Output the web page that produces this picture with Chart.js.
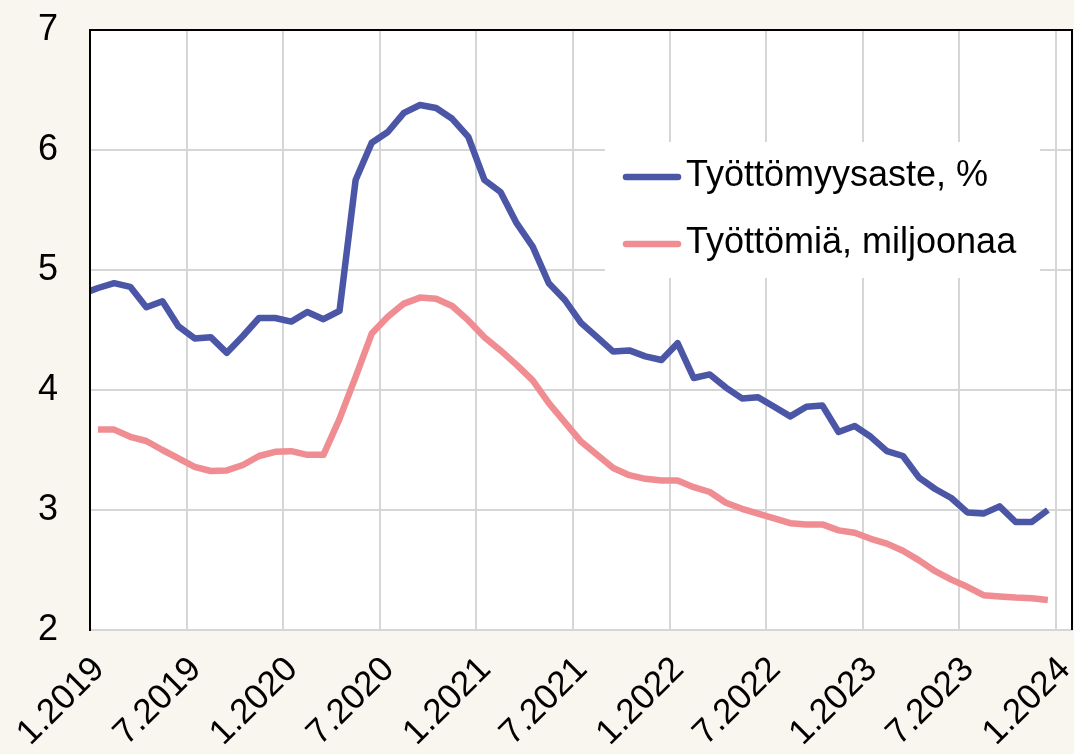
<!DOCTYPE html>
<html>
<head>
<meta charset="utf-8">
<script src="https://cdn.jsdelivr.net/npm/chart.js@4"></script>
<style>
  html, body { margin: 0; padding: 0; background: #f9f5ef; }
  #chart { display: block; }
</style>
</head>
<body>
<canvas id="chart" width="1074" height="754"></canvas>
<script>
// x-axis tick labels, one every 6 months
const tickLabels = ['1.2019', '7.2019', '1.2020', '7.2020', '1.2021', '7.2021',
  '1.2022', '7.2022', '1.2023', '7.2023', '1.2024'];

// Työttömyysaste, %  (monthly, from 12.2018)
const rateStart = -1;
const unemploymentRate = [
  4.80, 4.85, 4.89, 4.86, 4.69, 4.74, 4.53, 4.43, 4.44, 4.31, 4.45, 4.60, 4.60,
  4.57, 4.65, 4.59, 4.66, 5.75, 6.06, 6.15, 6.31, 6.375, 6.35, 6.26, 6.11,
  5.75, 5.65, 5.39, 5.195, 4.89, 4.75, 4.56, 4.44, 4.32, 4.33, 4.28, 4.25,
  4.39, 4.10, 4.13, 4.02, 3.93, 3.94, 3.86, 3.78, 3.86, 3.87, 3.65, 3.70,
  3.61, 3.49, 3.45, 3.27, 3.175, 3.10, 2.98, 2.97, 3.03, 2.90, 2.90, 3.00
];

// Työttömiä, miljoonaa  (monthly, from 1.2019)
const millionsStart = 0;
const unemployedMillions = [
  3.67, 3.67, 3.61, 3.575, 3.50, 3.43, 3.36, 3.325, 3.33, 3.375, 3.45, 3.485,
  3.49, 3.46, 3.46, 3.76, 4.11, 4.47, 4.61, 4.72, 4.77, 4.76, 4.70, 4.58,
  4.44, 4.33, 4.21, 4.08, 3.89, 3.73, 3.57, 3.46, 3.35, 3.29, 3.26, 3.245,
  3.245, 3.19, 3.15, 3.06, 3.01, 2.97, 2.93, 2.89, 2.88, 2.88, 2.83, 2.81,
  2.76, 2.72, 2.66, 2.58, 2.49, 2.42, 2.36, 2.29, 2.28, 2.27, 2.265, 2.25
];

const seriesNames = ['Työttömyysaste, %', 'Työttömiä, miljoonaa'];
const seriesColors = ['#4b56a6', '#f08d92'];

const FONT = 'Arial, "Liberation Sans", sans-serif';
const GRID = '#d6d6d6';

// points sit in the middle of each month
const toPoints = (vals, start) => vals.map((v, i) => ({ x: start + i + 0.5, y: v }));

const noPadding = (scale) => {
  scale.paddingLeft = 0;
  scale.paddingRight = 0;
  scale.paddingTop = 0;
  scale.paddingBottom = 0;
};

const plotBox = {
  id: 'plotBox',
  beforeDraw(chart) {
    const a = chart.chartArea, c = chart.ctx;
    c.save();
    c.fillStyle = '#ffffff';
    c.fillRect(a.left, a.top, a.right - a.left, a.bottom - a.top);
    c.restore();
  },
  beforeDatasetsDraw(chart) {
    // legend box inside the plot, covering the grid
    const c = chart.ctx;
    c.save();
    c.fillStyle = '#ffffff';
    c.fillRect(605, 142, 435, 136);
    const rows = [177, 244];
    chart.data.datasets.forEach((ds, i) => {
      c.strokeStyle = ds.borderColor;
      c.lineWidth = 6.5;
      c.lineCap = 'round';
      c.beginPath();
      c.moveTo(626, rows[i]);
      c.lineTo(678, rows[i]);
      c.stroke();
      c.fillStyle = '#000000';
      c.font = '36px ' + FONT;
      c.textBaseline = 'middle';
      c.textAlign = 'left';
      c.fillText(ds.label, 686, rows[i] - 1);
    });
    c.restore();
  },
  afterDatasetsDraw(chart) {
    const a = chart.chartArea, c = chart.ctx;
    c.save();
    c.strokeStyle = '#000000';
    c.lineWidth = 2;
    c.beginPath();
    c.moveTo(a.left, a.bottom);
    c.lineTo(a.left, a.top);
    c.lineTo(a.right, a.top);
    c.lineTo(a.right, a.bottom);
    c.stroke();
    c.restore();
  }
};

new Chart(document.getElementById('chart'), {
  type: 'line',
  data: {
    datasets: [
      {
        label: seriesNames[0],
        data: toPoints(unemploymentRate, rateStart),
        borderColor: seriesColors[0],
        borderWidth: 6.5,
        pointRadius: 0,
        tension: 0,
        borderJoinStyle: 'round',
        clip: 0
      },
      {
        label: seriesNames[1],
        data: toPoints(unemployedMillions, millionsStart),
        borderColor: seriesColors[1],
        borderWidth: 6.5,
        pointRadius: 0,
        tension: 0,
        borderJoinStyle: 'round',
        clip: 0
      }
    ]
  },
  options: {
    responsive: false,
    animation: false,
    layout: { padding: { left: 0, top: 30, right: 2, bottom: 0 } },
    plugins: {
      legend: { display: false },
      tooltip: { enabled: false }
    },
    scales: {
      x: {
        type: 'linear',
        min: 0,
        max: 61,
        afterBuildTicks: (scale) => {
          scale.ticks = tickLabels.map((_, i) => ({ value: i * 6 }));
        },
        afterFit: (scale) => { scale.height = 124; noPadding(scale); },
        grid: { color: GRID, lineWidth: 2, drawTicks: false },
        border: { color: GRID, width: 2 },
        ticks: {
          autoSkip: false,
          minRotation: 45,
          maxRotation: 45,
          padding: 19,
          labelOffset: 9,
          color: '#000000',
          font: { family: FONT, size: 35 },
          callback: (v, i) => tickLabels[i]
        }
      },
      y: {
        min: 2,
        max: 7,
        afterFit: (scale) => { scale.width = 90; noPadding(scale); },
        grid: { color: GRID, lineWidth: 2, drawTicks: false },
        border: { color: '#000000', width: 2 },
        ticks: {
          stepSize: 1,
          padding: 32,
          color: '#000000',
          font: { family: FONT, size: 36 }
        }
      }
    }
  },
  plugins: [plotBox]
});
</script>
</body>
</html>
